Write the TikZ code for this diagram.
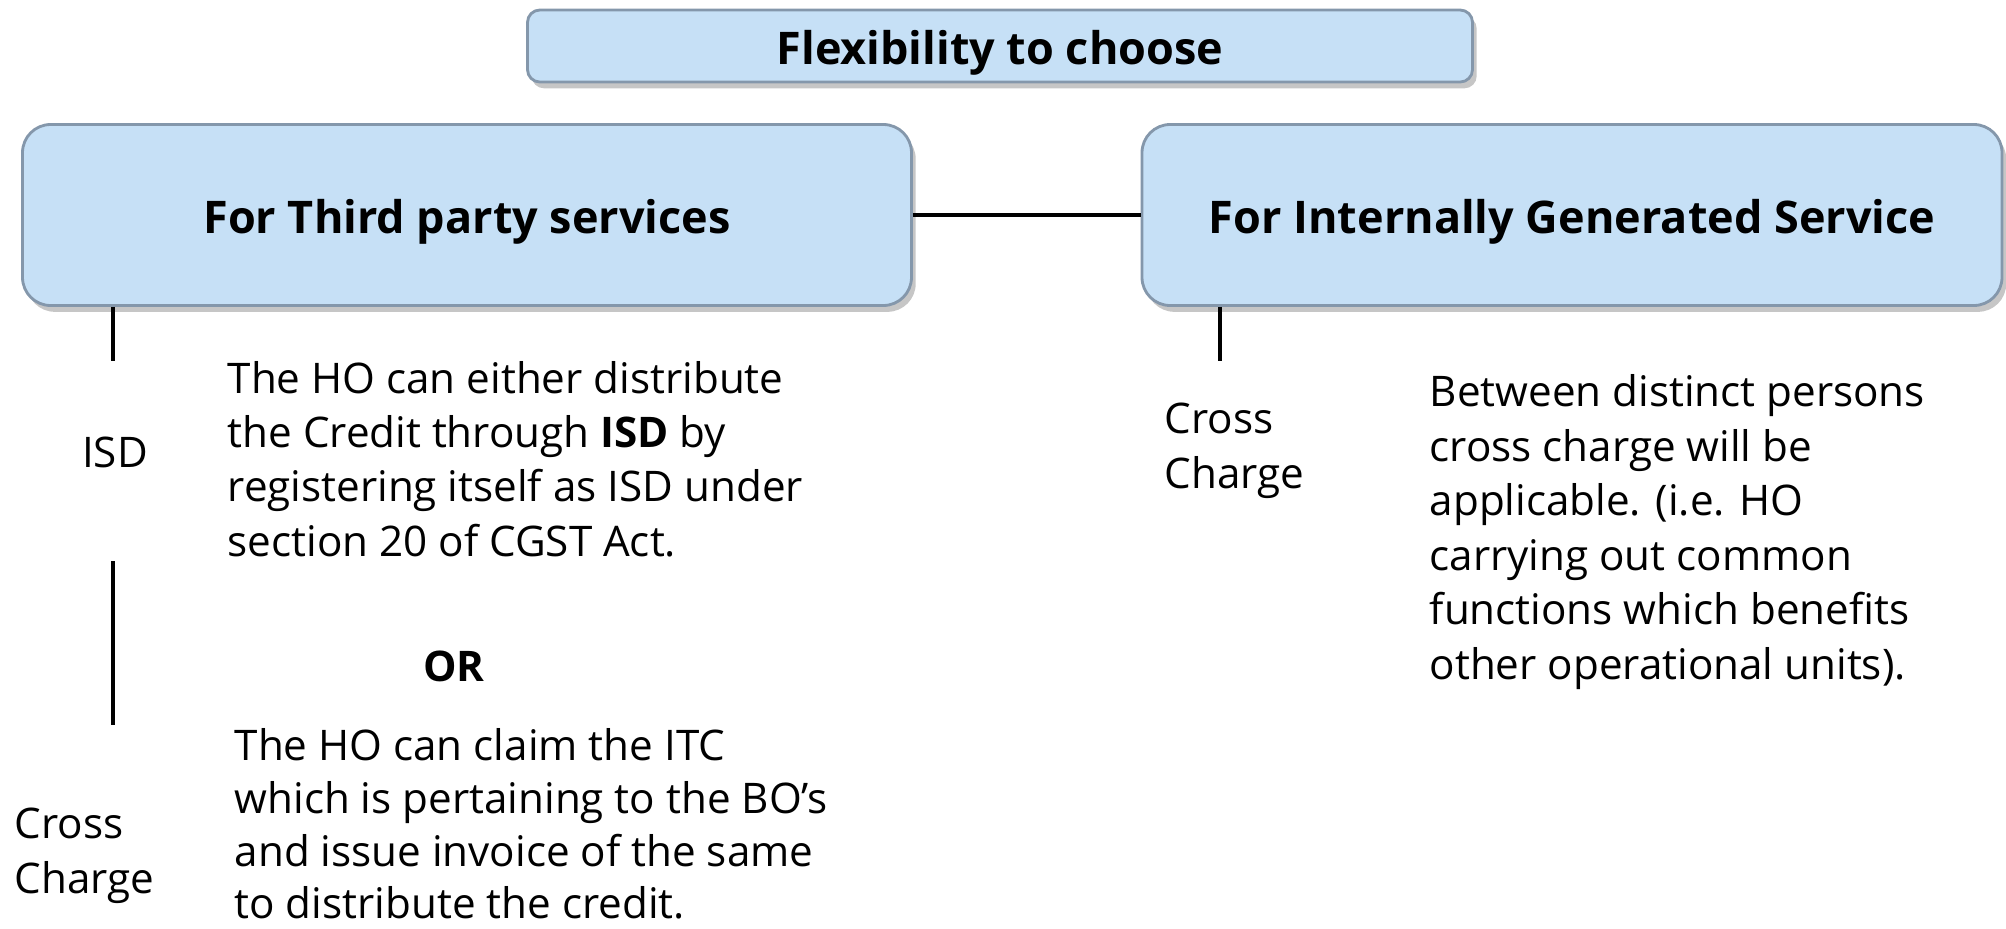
\documentclass[tikz,border=0pt]{standalone}
\usepackage{fontspec}
\setmainfont{Open Sans}
\usetikzlibrary{shadows}
\definecolor{boxfill}{HTML}{C6E0F6}
\definecolor{boxline}{HTML}{8497AB}
\begin{document}
\begin{tikzpicture}[
    x=0.1mm, y=-0.1mm,
    head/.style={
      rounded corners=8pt,
      fill=boxfill,
      draw=boxline,
      line width=0.8pt,
      text height=10.5pt,
      text depth=0pt,
      drop shadow={shadow xshift=1.2pt, shadow yshift=-1.8pt, opacity=0.45},
      font=\bfseries\fontsize{12.8}{15}\selectfont
    },
    body/.style={
      align=left,
      inner sep=0pt,
      anchor=west,
      font=\fontsize{12}{15.5}\selectfont
    },
    link/.style={line width=1.2pt}
  ]
  \useasboundingbox (0,0) rectangle (2006,928);

  \node[head, rounded corners=3.5pt, minimum width=9.45cm, minimum height=0.72cm] (flex) at (1000,46) {Flexibility to choose};

  \node[head, minimum width=8.89cm, minimum height=1.81cm] (third) at (467,215) {For Third party services};
  \node[head, minimum width=8.6cm, minimum height=1.81cm] (internal) at (1572,215) {For Internally Generated Service};

  \draw[link] (third) -- (internal);

  \coordinate (isdend) at (113,361);
  \coordinate (ortop) at (113,561);
  \coordinate (orbot) at (113,725);
  \coordinate (ccend) at (1220,361);

  \draw[link] (third.south -| isdend) -- (isdend);
  \draw[link] (ortop) -- (orbot);
  \draw[link] (internal.south -| ccend) -- (ccend);

  \node[body, anchor=center] (isd) at (115,452) {ISD};
  \node[body] (isdtext) at (227,459) {The HO can either distribute\\the Credit through \textbf{ISD} by\\registering itself as ISD under\\section 20 of CGST Act.};
  \node[body, anchor=center, font=\bfseries\fontsize{12}{15.5}\selectfont] (or) at (454,666) {OR};
  \node[body] (cross) at (14,856) {Cross\\Charge};
  \node[body, font=\fontsize{12}{15}\selectfont] (crosstext) at (234,824) {The HO can claim the ITC\\which is pertaining to the BO’s\\and issue invoice of the same\\to distribute the credit.};

  \node[body] (cc) at (1164,451) {Cross\\Charge};
  \node[body] (cctext) at (1429,532) {Between distinct persons\\cross charge will be\\applicable. (i.e. HO\\carrying out common\\functions which benefits\\other operational units).};

\end{tikzpicture}
\end{document}
